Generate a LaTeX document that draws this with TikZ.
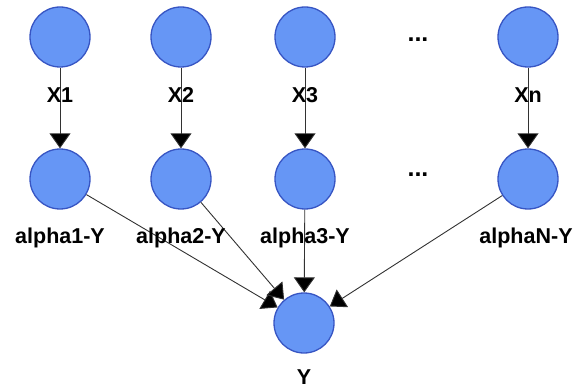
\documentclass[tikz,border=0pt]{standalone}
\usepackage{fontspec}
\setmainfont{Liberation Sans}
\usetikzlibrary{arrows.meta}
\definecolor{nodefill}{RGB}{102,150,245}
\definecolor{nodeedge}{RGB}{55,85,195}
\definecolor{edgeline}{RGB}{50,50,50}
\tikzset{
  var/.style={circle, draw=nodeedge, fill=nodefill, line width=1.3pt, minimum size=60pt, inner sep=0pt},
  lbl/.style={font=\fontsize{21.5}{25}\selectfont\bfseries, inner sep=0pt},
  dots/.style={font=\fontsize{25}{28}\selectfont\bfseries, inner sep=0pt},
  conn/.style={draw=edgeline, line width=0.9pt, -{Triangle[length=15pt,width=21pt,fill=black]}},
}
\begin{document}
\begin{tikzpicture}[x=1pt,y=-1pt]
\useasboundingbox (0,0) rectangle (583,390);
% top row
\node[var] (x1) at (60,37) {};
\node[var] (x2) at (181,37) {};
\node[var] (x3) at (305,37) {};
\node[var] (xn) at (528,37) {};
\node[dots] (dt) at (418,40) {...};
% second row
\node[var] (a1) at (60,179) {};
\node[var] (a2) at (181,179) {};
\node[var] (a3) at (305,179) {};
\node[var] (an) at (528,179) {};
\node[dots] (dm) at (418,175) {...};
% output
\node[var] (y) at (304,323) {};
% arrows
\draw[conn] (x1) -- (a1);
\draw[conn] (x2) -- (a2);
\draw[conn] (x3) -- (a3);
\draw[conn] (xn) -- (an);
\draw[conn] (a1) -- (y);
\draw[conn] (a2) -- (y);
\draw[conn] (a3) -- (y);
\draw[conn] (an) -- (y);
% labels
\node[lbl] (l1) at (60,95) {X1};
\node[lbl] (l2) at (181,95) {X2};
\node[lbl] (l3) at (305,95) {X3};
\node[lbl] (ln) at (528,95) {Xn};
\node[lbl] (m1) at (60,238) {alpha1-Y};
\node[lbl] (m2) at (181,238) {alpha2-Y};
\node[lbl] (m3) at (305,238) {alpha3-Y};
\node[lbl] (mn) at (526,238) {alphaN-Y};
\node[lbl] (ly) at (304,377) {Y};
\end{tikzpicture}
\end{document}
